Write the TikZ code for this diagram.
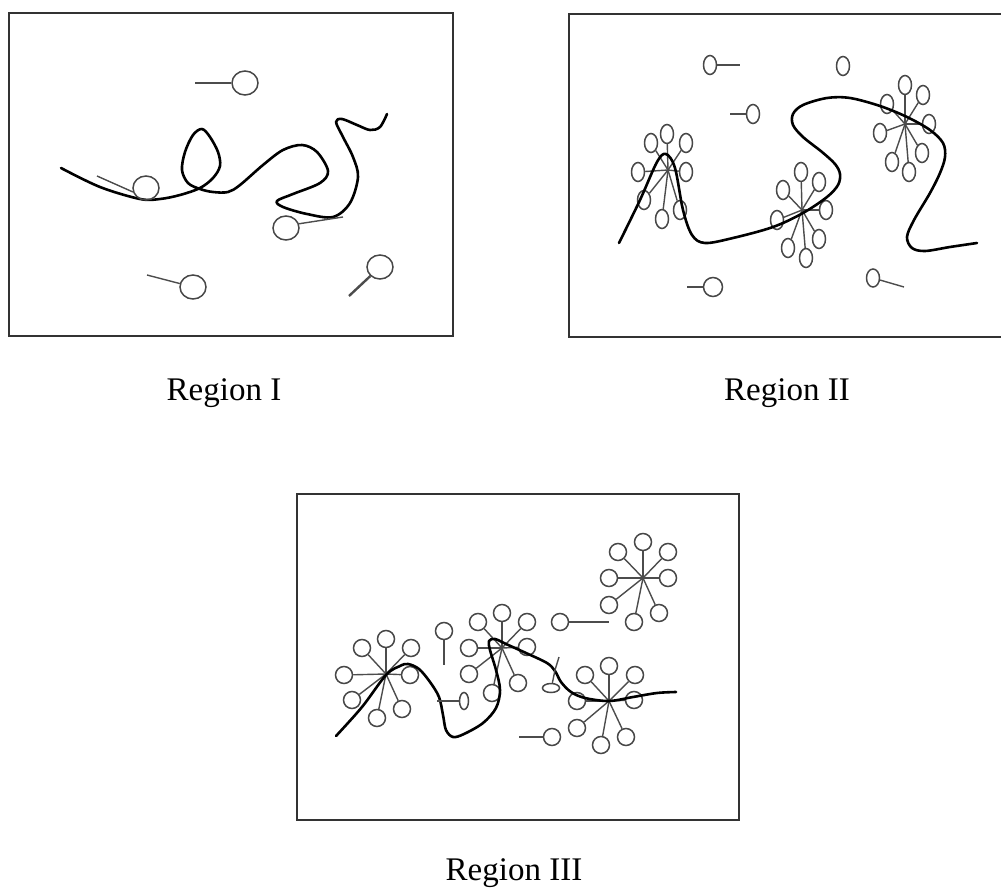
\documentclass[tikz,border=0pt]{standalone}
\usepackage{fontspec}
\setmainfont{Liberation Serif}
\usetikzlibrary{shapes.geometric}

% a hub with radiating spokes, each ending in a bead
\newcommand\bloom[3]{% #1 hub name, #2 hub position, #3 bead positions
  \coordinate (#1) at (#2);
  \foreach \p [count=\k] in {#3}{
    \node[petal] (#1-\k) at (\p) {};
    \draw[stem] (#1) -- (#1-\k);
  }}

\begin{document}
\begin{tikzpicture}[x=1pt,y=-1pt,
  frame/.style={draw=black!80,line width=2.4pt},
  chain/.style={draw=black,line width=2.6pt,line cap=round,line join=round},
  stem/.style={draw=black!70,line width=1.4pt},
  bead/.style 2 args={ellipse,draw=black!72,line width=1.5pt,inner sep=0pt,
    minimum width=#1,minimum height=#2},
  lbl/.style={anchor=base,inner sep=0pt,font=\fontsize{33}{40}\selectfont}]
\useasboundingbox (0,0) rectangle (1001,888);

% ---------------- Region I ----------------
\draw[frame] (9,13) rectangle (453,336);
\draw[chain] plot[smooth,tension=0.55] coordinates {
  (61,168) (100,187) (140,199) (160,199) (180,195) (200,188) (213,178)
  (220,166) (218,152) (210,137) (202,129) (193,135) (185,152) (182,170)
  (188,183) (200,189) (213,192) (228,192) (240,185) (263,165) (283,150)
  (302,145) (317,152) (328,171) (320,183) (293,194) (277,201) (283,207)
  (307,214) (333,217) (350,203) (358,177) (353,157) (343,137) (336,122)
  (342,119) (357,125) (370,130) (380,127) (387,114)};

\node[bead={26pt}{24pt}] (a1) at (245,83) {};
\coordinate (a1s) at (195,83);
\draw[stem] (a1s) -- (a1);

\node[bead={26pt}{24pt}] (a2) at (146,188) {};
\coordinate (a2s) at (97,176);
\draw[stem] (a2s) -- (a2.197);

\node[bead={26pt}{24pt}] (a3) at (286,228) {};
\coordinate (a3s) at (343,217);
\draw[stem] (a3.18) -- (a3s);

\node[bead={26pt}{24pt}] (a4) at (193,287) {};
\coordinate (a4s) at (147,275);
\draw[stem] (a4s) -- (a4);

\node[bead={26pt}{24pt}] (a5) at (380,267) {};
\coordinate (a5s) at (349,296);
\draw[stem,line width=2.4pt] (a5s) -- (a5);

\node[lbl] (lab1) at (224,400) {Region I};

% ---------------- Region II ----------------
\draw[frame] (1003,14) -- (569,14) -- (569,337) -- (1003,337);
\begin{scope}[petal/.style={bead={13pt}{19pt}}]
  \bloom{h1}{668,170}{{667,134},{651,143},{686,143},{638,172},{686,172},{644,200},{662,219},{680,210}}
  \bloom{h2}{802,210}{{801,172},{783,190},{819,182},{777,220},{826,210},{788,248},{806,258},{819,239}}
  \bloom{h3}{905,124}{{905,85},{887,104},{923,95},{880,133},{929,124},{892,162},{909,172},{922,153}}
\end{scope}
\draw[chain] plot[smooth,tension=0.55] coordinates {
  (619,243) (640,200) (657,162) (666,154) (675,168) (683,210) (692,235)
  (705,243) (733,238) (773,227) (803,213) (827,197) (838,185) (840,174)
  (835,164) (822,152) (803,137) (793,125) (793,114) (803,105) (827,98)
  (850,98) (880,106) (907,117) (930,130) (943,143) (945,157) (940,173)
  (930,193) (914,220) (907,237) (912,248) (925,251) (950,247) (977,243)};

\node[bead={13pt}{19pt}] (b1) at (710,65) {};
\coordinate (b1e) at (740,65);
\draw[stem] (b1) -- (b1e);

\node[bead={13pt}{19pt}] (b2) at (843,66) {};

\node[bead={13pt}{19pt}] (b3) at (753,114) {};
\coordinate (b3s) at (730,114);
\draw[stem] (b3s) -- (b3);

\node[bead={19pt}{19pt}] (b4) at (713,287) {};
\coordinate (b4s) at (687,287);
\draw[stem] (b4s) -- (b4);

\node[bead={13pt}{18pt}] (b5) at (873,278) {};
\coordinate (b5e) at (904,287);
\draw[stem] (b5) -- (b5e);

\node[lbl] (lab2) at (787,400) {Region II};

% ---------------- Region III ----------------
\draw[frame] (297,494) rectangle (739,820);
\begin{scope}[petal/.style={bead={17pt}{17pt}}]
  \bloom{k1}{386,674}{{386,639},{362,648},{411,648},{344,675},{410,675},{352,700},{377,718},{402,709}}
  \bloom{k2}{502,648}{{502,613},{478,622},{527,622},{469,648},{527,647},{469,674},{492,693},{518,683}}
  \bloom{k3}{643,578}{{643,542},{618,552},{668,552},{609,578},{668,578},{609,605},{634,622},{659,613}}
  \bloom{k4}{609,701}{{609,666},{585,675},{635,675},{577,701},{634,700},{577,728},{601,745},{626,737}}
\end{scope}
\draw[chain] plot[smooth,tension=0.55] coordinates {
  (336,736) (362,707) (386,675) (400,666) (408,664) (419,669) (430,682)
  (439,697) (443,715) (446,730) (453,737) (464,734) (483,723) (496,708)
  (500,690) (496,670) (490,650) (489,641) (495,639) (506,644) (526,653)
  (547,663) (555,671) (561,682) (571,692) (585,698) (609,701) (633,697)
  (657,693) (676,692)};

\node[bead={17pt}{17pt}] (c1) at (444,631) {};
\coordinate (c1e) at (444,665);
\draw[stem] (c1) -- (c1e);

\node[bead={17pt}{17pt}] (c2) at (560,622) {};
\coordinate (c2e) at (609,622);
\draw[stem] (c2) -- (c2e);

\node[bead={9pt}{17pt}] (c3) at (464,701) {};
\coordinate (c3s) at (437,701);
\draw[stem] (c3s) -- (c3);

\node[bead={17pt}{9pt}] (c4) at (551,688) {};
\coordinate (c4m) at (555,670);
\coordinate (c4t) at (559,657);
\draw[stem] (c4.75) -- (c4m) -- (c4t);

\node[bead={17pt}{17pt}] (c5) at (552,737) {};
\coordinate (c5s) at (519,737);
\draw[stem] (c5s) -- (c5);

\node[lbl] (lab3) at (514,880) {Region III};
\end{tikzpicture}
\end{document}
